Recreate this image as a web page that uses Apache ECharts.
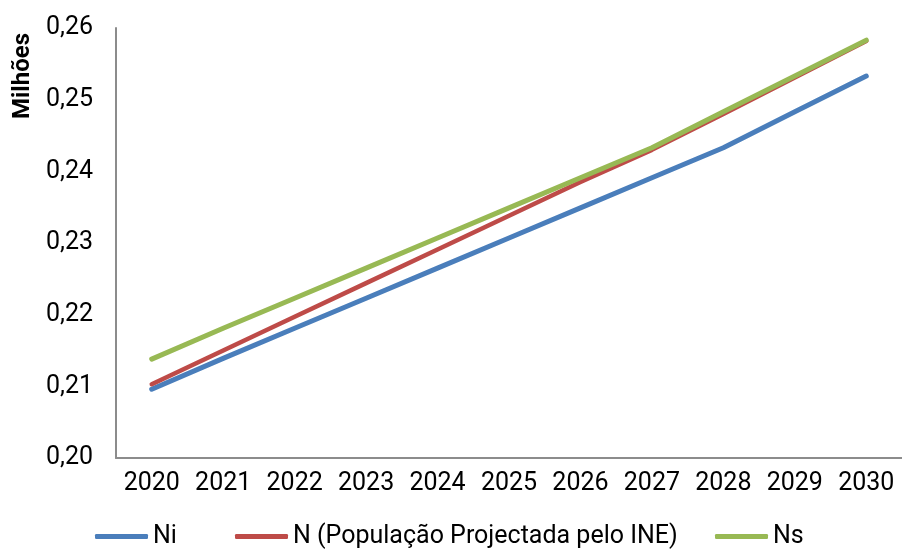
<!DOCTYPE html>
<html>
<head>
<meta charset="utf-8">
<script src="https://cdn.jsdelivr.net/npm/echarts@6/dist/echarts.min.js"></script>
<style>
  html, body { margin: 0; padding: 0; background: #fff; }
  #chart { width: 902px; height: 551px; }
</style>
</head>
<body>
<div id="chart"></div>
<script>
// Projected population (millions), 2020–2030
const years = ['2020', '2021', '2022', '2023', '2024', '2025', '2026', '2027', '2028', '2029', '2030'];
const niValues = [0.2096, 0.2139, 0.2181, 0.2223, 0.2265, 0.2307, 0.2349, 0.2391, 0.2433, 0.2483, 0.2533];
const nValues  = [0.2103, 0.2150, 0.2197, 0.2244, 0.2291, 0.2338, 0.2385, 0.2430, 0.2480, 0.2531, 0.2582];
const nsValues = [0.2138, 0.2181, 0.2223, 0.2265, 0.2307, 0.2349, 0.2391, 0.2433, 0.2483, 0.2533, 0.2583];
const seriesNames = ['Ni', 'N (População Projectada pelo INE)', 'Ns'];
const seriesColors = ['#4a7ebb', '#be4b48', '#98b954'];
const yAxisTitle = 'Milhões';

const FONT = 'Roboto';
const chart = echarts.init(document.getElementById('chart'), null, { renderer: 'canvas' });

const values = [niValues, nValues, nsValues];
const legendLefts = [95, 235, 715];

chart.setOption({
  animation: false,
  backgroundColor: '#ffffff',
  grid: { left: 116, right: 0, top: 28, bottom: 93, containLabel: false },
  xAxis: {
    type: 'category',
    data: years,
    boundaryGap: true,
    axisLine: { lineStyle: { color: '#8c8c8c', width: 2 } },
    axisTick: { show: false },
    axisLabel: { interval: 0, color: '#000', fontFamily: FONT, fontSize: 25, margin: 13 }
  },
  yAxis: {
    type: 'value',
    min: 0.20,
    max: 0.26,
    interval: 0.01,
    axisLine: { show: true, lineStyle: { color: '#8c8c8c', width: 2 } },
    axisTick: { show: false },
    splitLine: { show: false },
    axisLabel: {
      color: '#000', fontFamily: FONT, fontSize: 25, margin: 23,
      formatter: v => v.toFixed(2).replace('.', ',')
    }
  },
  legend: seriesNames.map((name, i) => ({
    data: [name],
    left: legendLefts[i],
    top: 524,
    padding: 0,
    icon: 'roundRect',
    itemWidth: 53,
    itemHeight: 5,
    itemGap: 0,
    textStyle: { color: '#000', fontFamily: FONT, fontSize: 25 }
  })),
  graphic: [{
    type: 'text',
    x: 23,
    y: 76,
    rotation: Math.PI / 2,
    style: {
      text: yAxisTitle,
      fill: '#000',
      fontFamily: FONT,
      fontWeight: 'bold',
      fontSize: 24,
      align: 'center',
      verticalAlign: 'middle'
    }
  }],
  series: seriesNames.map((name, i) => ({
    name: name,
    type: 'line',
    data: values[i],
    showSymbol: false,
    symbol: 'none',
    color: seriesColors[i],
    lineStyle: { color: seriesColors[i], width: i === 1 ? 4.5 : 5, cap: 'round', join: 'round' },
    z: 2 + i
  }))
});
</script>
</body>
</html>
